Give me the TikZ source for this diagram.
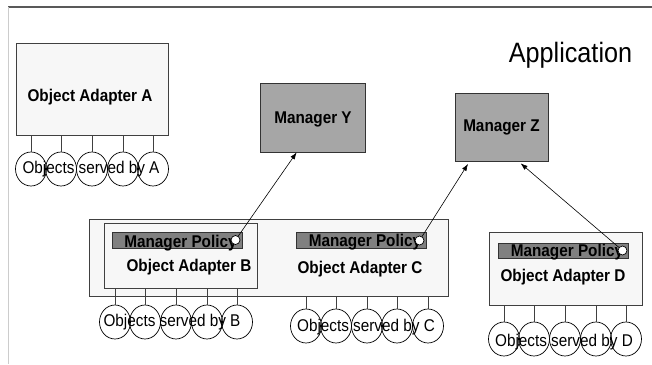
\documentclass[tikz,border=0pt]{standalone}
\usepackage{fontspec}
\setmainfont{Liberation Sans}[FakeStretch=0.9]
\usetikzlibrary{arrows.meta,calc,shapes.geometric}

\begin{document}
\begin{tikzpicture}[x=1pt,y=-1pt,
  adapter/.style={draw=black!75, fill=black!3, line width=0.8pt, inner sep=0pt},
  manager/.style={draw=black!80, fill=black!35, line width=0.8pt, inner sep=0pt},
  policybar/.style={draw=black!80, fill=black!50, line width=0.8pt, inner sep=0pt},
  policydot/.style={circle, draw=black, fill=white, line width=0.7pt, inner sep=0pt, minimum size=9pt},
  objcirc/.style={ellipse, draw=black, line width=0.7pt, inner sep=0pt, minimum width=31pt, minimum height=34pt},
  stem/.style={draw=black!75, line width=0.7pt},
  lbl/.style={font=\fontsize{17}{19}\selectfont\bfseries, inner sep=0pt, anchor=base},
  objtxt/.style={font=\fontsize{17}{19}\selectfont, inner sep=0pt, anchor=base},
  link/.style={draw=black, line width=0.6pt, -{Latex[length=7pt,width=5pt]}}
]
\useasboundingbox (0,0) rectangle (652,364);

% frame of the application area
\draw[black!65, line width=2pt] (8,7) -- (652,7);
\draw[black!20, line width=1pt] (8,7) -- (8,364);

\node[font=\fontsize{28}{32}\selectfont, inner sep=0pt, anchor=base] (app) at (570.5,62) {Application};

% managers
\node[manager, minimum width=105pt, minimum height=69pt] (manY) at (312.5,117.5) {};
\node[lbl] (manYt) at (313,123) {Manager Y};
\node[manager, minimum width=93pt, minimum height=68pt] (manZ) at (501.5,127) {};
\node[lbl] (manZt) at (501.5,131.5) {Manager Z};

% adapter A
\node[adapter, minimum width=152pt, minimum height=92pt] (boxA) at (92,89) {};
\node[lbl] (labA) at (90,101) {Object Adapter A};

% container holding adapters B and C
\node[adapter, minimum width=359pt, minimum height=77pt] (cont) at (268.5,257.5) {};
\node[adapter, minimum width=153pt, minimum height=65pt] (boxB) at (180.5,255.5) {};
\node[policybar, minimum width=130pt, minimum height=16pt] (polB) at (177,240) {};
\node[lbl] (polBt) at (180.5,247) {Manager Policy};
\node[policydot] (pcB) at (235.5,240) {};
\node[lbl] (labB) at (189,271.5) {Object Adapter B};

\node[policybar, minimum width=130pt, minimum height=16pt] (polC) at (361,240.5) {};
\node[lbl] (polCt) at (365,246.5) {Manager Policy};
\node[policydot] (pcC) at (419.5,240.5) {};
\node[lbl] (labC) at (360,273) {Object Adapter C};

% adapter D
\node[adapter, minimum width=153pt, minimum height=73pt] (boxD) at (565.5,268.5) {};
\node[policybar, minimum width=130pt, minimum height=15pt] (polD) at (563,250.5) {};
\node[lbl] (polDt) at (567,256) {Manager Policy};
\node[policydot] (pcD) at (622.5,250.5) {};
\node[lbl] (labD) at (563,281.5) {Object Adapter D};

% served objects
\foreach \i/\x in {1/31,2/61,3/92,4/123,5/153} {
  \node[objcirc] (oA\i) at (\x,169) {};
  \draw[stem] (oA\i.north) -- (oA\i.north |- boxA.south);
}
\node[objtxt] (objA) at (91,173.5) {Objects served by A};

\foreach \i/\x in {1/115,2/145,3/176,4/207,5/237} {
  \node[objcirc] (oB\i) at (\x,322) {};
  \draw[stem] (oB\i.north) -- (oB\i.north |- boxB.south);
}
\node[objtxt] (objB) at (172,326.5) {Objects served by B};

\foreach \i/\x in {1/306,2/336,3/367,4/397,5/428} {
  \node[objcirc] (oC\i) at (\x,326) {};
  \draw[stem] (oC\i.north) -- (oC\i.north |- cont.south);
}
\node[objtxt] (objC) at (366,331.5) {Objects served by C};

\foreach \i/\x in {1/504,2/534,3/565,4/596,5/626} {
  \node[objcirc] (oD\i) at (\x,339) {};
  \draw[stem] (oD\i.north) -- (oD\i.north |- boxD.south);
}
\node[objtxt] (objD) at (564,346) {Objects served by D};

% policy links to managers
\draw[link] (pcB) -- ($(manY.south west)!0.35!(manY.south east)$);
\draw[link, shorten >=3pt] (pcC) -- ($(manZ.south west)!0.16!(manZ.south east)$);
\draw[link, shorten >=3pt] (pcD) -- ($(manZ.south west)!0.68!(manZ.south east)$);
\end{tikzpicture}
\end{document}
